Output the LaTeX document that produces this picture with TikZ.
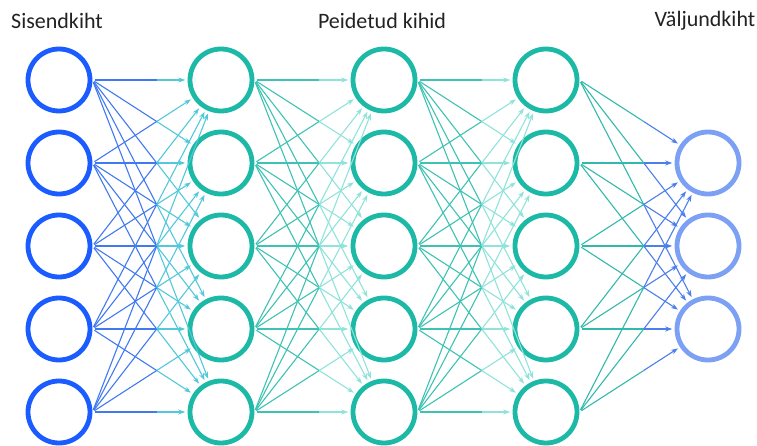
\documentclass[tikz,border=0pt]{standalone}
\usepackage{fontspec}
\setmainfont{Carlito}
\usetikzlibrary{arrows.meta,calc}
\definecolor{inblue}{HTML}{1A5CFF}
\definecolor{hidteal}{HTML}{1CB9A6}
\definecolor{outblue}{HTML}{7BA0F4}
\definecolor{eAs}{HTML}{4079F0}
\definecolor{eAt}{HTML}{52C8DA}
\definecolor{eBs}{HTML}{3DC2B3}
\definecolor{eBt}{HTML}{8FE3DA}
\definecolor{eCs}{HTML}{33B8AC}
\definecolor{eCt}{HTML}{4C7EEC}
\definecolor{labelgray}{HTML}{222222}
\begin{document}
\begin{tikzpicture}[x=1pt,y=-1pt,
  neuron/.style={circle, draw, line width=4.8pt, minimum size=62pt, inner sep=0pt},
  edgehalf/.style={line width=1.1pt, shorten <=2.4pt},
  edgetip/.style={line width=1.1pt, shorten >=2.4pt, -{Stealth[length=7pt,width=5pt]}},
  layerlabel/.style={font=\fontsize{22}{24}\selectfont, text=labelgray}]
\useasboundingbox (0,0) rectangle (757,446);
\foreach \i/\y in {1/80,2/163,3/246,4/329,5/412} {
  \node[neuron, draw=inblue] (i\i) at (59,\y) {};
  \node[neuron, draw=hidteal] (a\i) at (221,\y) {};
  \node[neuron, draw=hidteal] (b\i) at (384,\y) {};
  \node[neuron, draw=hidteal] (c\i) at (546,\y) {};
}
\foreach \i/\y in {1/163,2/246,3/329} {
  \node[neuron, draw=outblue] (o\i) at (708,\y) {};
}
\foreach \s in {1,...,5} {
  \foreach \t in {1,...,5} {
    \draw[edgehalf, eAs] (i\s.east) -- ($(i\s.east)!0.5!(a\t)$);
    \draw[edgetip, eAt] ($(i\s.east)!0.5!(a\t)$) -- (a\t);
    \draw[edgehalf, eBs] (a\s.east) -- ($(a\s.east)!0.5!(b\t)$);
    \draw[edgetip, eBt] ($(a\s.east)!0.5!(b\t)$) -- (b\t);
    \draw[edgehalf, eBs] (b\s.east) -- ($(b\s.east)!0.5!(c\t)$);
    \draw[edgetip, eBt] ($(b\s.east)!0.5!(c\t)$) -- (c\t);
  }
  \foreach \t in {1,2,3} {
    \draw[edgehalf, eCs] (c\s.east) -- ($(c\s.east)!0.5!(o\t)$);
    \draw[edgetip, eCt] ($(c\s.east)!0.5!(o\t)$) -- (o\t);
  }
}
\node[layerlabel] (l1) at (57,21) {Sisendkiht};
\node[layerlabel] (l2) at (382,21) {Peidetud kihid};
\node[layerlabel] (l3) at (705,21) {Väljundkiht};
\end{tikzpicture}
\end{document}
